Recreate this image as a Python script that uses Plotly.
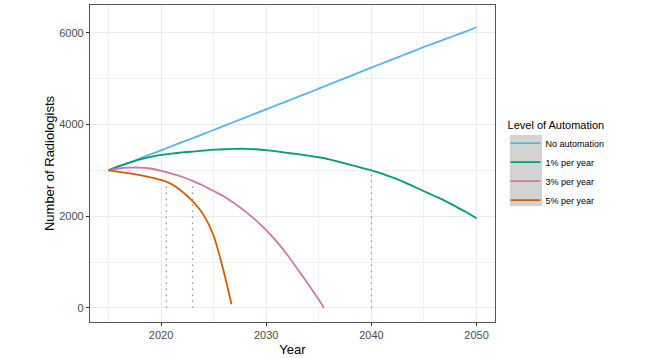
import plotly.graph_objects as go

years = list(range(2015, 2051))

no_automation = [3000, 3085, 3170, 3260, 3350, 3436, 3525, 3615, 3700, 3790,
                 3880, 3970, 4060, 4150, 4240, 4330, 4420, 4510, 4600, 4690,
                 4780, 4875, 4965, 5055, 5150, 5240, 5330, 5420, 5510, 5600,
                 5690, 5775, 5860, 5945, 6030, 6120]

one_pct = [3000, 3090, 3170, 3240, 3295, 3335, 3365, 3390, 3410, 3430,
           3450, 3460, 3468, 3470, 3460, 3440, 3412, 3382, 3352, 3320,
           3285, 3240, 3180, 3120, 3060, 3000, 2930, 2845, 2755, 2650,
           2545, 2440, 2335, 2215, 2090, 1955]

three_pct_years = list(range(2015, 2036)) + [2035.5]
three_pct = [3000, 3040, 3058, 3060, 3040, 2990, 2930, 2860, 2770, 2670,
             2550, 2430, 2275, 2105, 1915, 1695, 1445, 1160, 840, 515,
             180, 0]

five_pct_years = list(range(2015, 2027)) + [2026.7]
five_pct = [3000, 2968, 2935, 2895, 2848, 2790, 2700, 2540, 2330, 2045,
            1578, 760, 80]

marker_years = [2020.5, 2023, 2040]
marker_values = [2750, 2760, 3000]

series_names = ["No automation", "1% per year", "3% per year", "5% per year"]
series_colors = ["#56B4E9", "#009E73", "#CC79A7", "#D55E00"]

x_ticks = [2020, 2030, 2040, 2050]
y_ticks = [0, 2000, 4000, 6000]

fig = go.Figure()

# dotted reference lines
for xv, yv in zip(marker_years, marker_values):
    fig.add_trace(go.Scatter(x=[xv, xv], y=[0, yv], mode="lines",
                             line=dict(color="#999999", width=1.3, dash="1.5px,4.5px"),
                             showlegend=False, hoverinfo="skip"))

series = [(years, no_automation), (years, one_pct),
          (three_pct_years, three_pct), (five_pct_years, five_pct)]
for (xs, ys), name, col in zip(series, series_names, series_colors):
    fig.add_trace(go.Scatter(x=xs, y=ys, mode="lines", name=name,
                             line=dict(color=col, width=1.8, shape="spline",
                                       smoothing=0.6)))

grid = "#EBEBEB"
fig.update_layout(
    width=656, height=358,
    margin=dict(l=90, r=161, t=4, b=32),
    plot_bgcolor="white", paper_bgcolor="white",
    font=dict(family="Liberation Sans, Arial, sans-serif", color="#000000"),
    showlegend=True,
    legend=dict(
        title=dict(text="Level of Automation", font=dict(size=11, color="#000")),
        font=dict(size=9, color="#000"),
        x=1.026, xanchor="left", y=0.655, yanchor="top",
        bgcolor="rgba(0,0,0,0)", itemwidth=30, tracegroupgap=0,
    ),
    xaxis=dict(
        range=[2013.25, 2051.75], tickvals=x_ticks, ticks="outside", ticklen=3,
        tickcolor="#333333", tickfont=dict(size=11, color="#4D4D4D"),
        showgrid=True, gridcolor=grid, gridwidth=1, zeroline=False,
        showline=True, linecolor="#555555", linewidth=1.3, mirror=True,
        minor=dict(tick0=2015, dtick=10, showgrid=True, gridcolor="#F0F0F0", gridwidth=0.8),
        title=dict(text="Year", font=dict(size=13), standoff=4),
    ),
    yaxis=dict(
        range=[-307, 6605], tickvals=y_ticks, ticks="outside", ticklen=3,
        tickcolor="#333333", tickfont=dict(size=11, color="#4D4D4D"),
        showgrid=True, gridcolor=grid, gridwidth=1, zeroline=False,
        showline=True, linecolor="#555555", linewidth=1.3, mirror=True,
        minor=dict(tick0=1000, dtick=2000, showgrid=True, gridcolor="#F0F0F0", gridwidth=0.8),
        title=dict(text="Number of Radiologists", font=dict(size=13), standoff=1),
    ),
    shapes=[dict(type="rect", xref="paper", yref="paper",
                 x0=1.0365, x1=1.116, y0=0.366, y1=0.590,
                 fillcolor="#D3D3D3", line=dict(width=0), layer="below")],
)

fig.write_html("out.html")
